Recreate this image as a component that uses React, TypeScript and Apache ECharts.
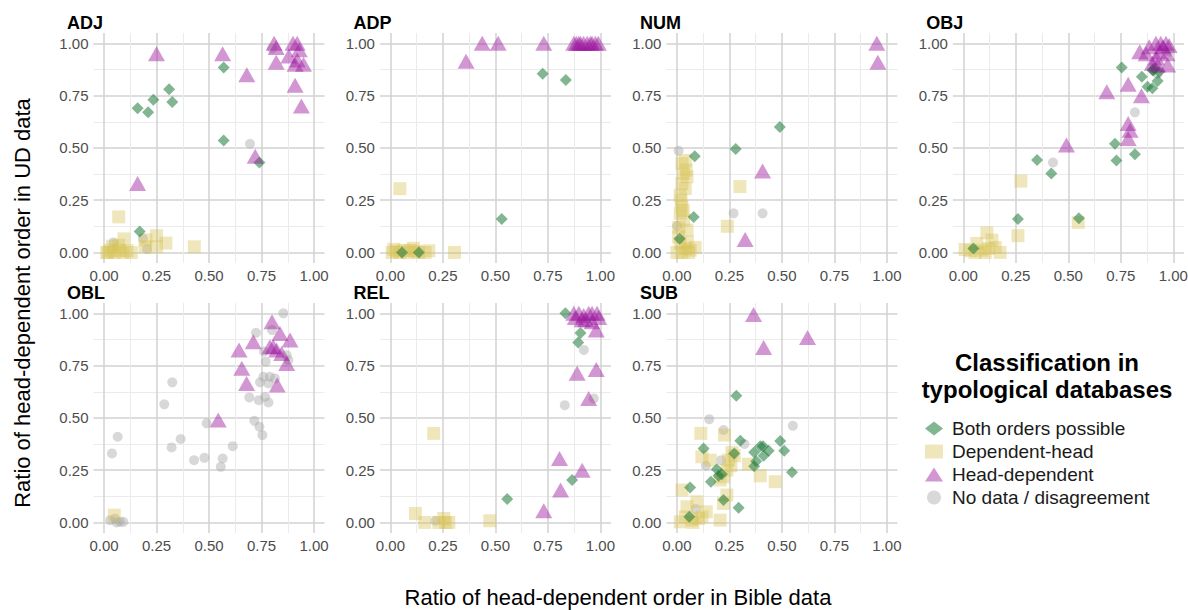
import React, { useEffect, useRef } from "react";
import * as echarts from "echarts";

type P = [number, number][];

const panelNames = ["ADJ", "ADP", "NUM", "OBJ", "OBL", "REL", "SUB"];
const classNames = ["Both orders possible", "Dependent-head", "Head-dependent", "No data / disagreement"];
const majorTicks = [0, 0.25, 0.5, 0.75, 1];
const minorTicks = [0.125, 0.375, 0.625, 0.875];

// ADJ
const adjBoth: P = [[0.16,0.69],[0.21,0.67],[0.235,0.73],[0.31,0.78],[0.325,0.72],[0.57,0.885],[0.57,0.535],[0.74,0.43],[0.17,0.10]];
const adjDep: P = [[0.07,0.17],[0.095,0.065],[0.25,0.08],[0.295,0.045],[0.43,0.027],[0.03,0.01],[0.05,0.0],[0.075,0.01],[0.11,0.008],[0.13,0.0],[0.013,0.0],[0.195,0.027],[0.25,0.027],[0.07,0.035],[0.04,0.03],[0.2,0.06],[0.02,0.0],[0.09,0.0]];
const adjHead: P = [[0.25,0.95],[0.565,0.95],[0.68,0.85],[0.16,0.33],[0.72,0.46],[0.81,1.0],[0.82,0.98],[0.90,1.0],[0.92,1.0],[0.93,0.97],[0.82,0.91],[0.88,0.94],[0.91,0.9],[0.92,0.92],[0.95,0.9],[0.91,0.8],[0.94,0.7]];
const adjNone: P = [[0.80,0.975],[0.695,0.52],[0.185,0.067],[0.205,0.016],[0.045,0.048]];

// ADP
const adpBoth: P = [[0.725,0.855],[0.835,0.825],[0.53,0.16],[0.055,0.0],[0.135,0.0]];
const adpDep: P = [[0.045,0.305],[0.305,0.0],[0.008,0.0],[0.03,0.005],[0.063,0.01],[0.095,0.01],[0.11,0.02],[0.135,0.0],[0.165,0.0],[0.183,0.008],[0.016,0.015],[0.08,0.0],[0.045,0.0],[0.12,0.005]];
const adpHead: P = [[0.36,0.915],[0.437,1.0],[0.513,1.0],[0.73,1.0],[0.873,1.0],[0.885,1.0],[0.897,1.0],[0.92,1.0],[0.937,1.0],[0.952,1.0],[0.976,1.0],[0.99,1.0],[0.905,1.0],[0.96,1.0]];
const adpNone: P = [];

// NUM
const numBoth: P = [[0.49,0.6],[0.28,0.495],[0.085,0.46],[0.08,0.17],[0.013,0.065]];
const numDep: P = [[0.30,0.315],[0.24,0.125],[0.024,0.426],[0.032,0.378],[0.048,0.362],[0.024,0.33],[0.04,0.306],[0.016,0.274],[0.024,0.218],[0.016,0.187],[0.032,0.155],[0.048,0.107],[0.008,0.075],[0.016,0.043],[0.04,0.019],[0.063,0.011],[0.087,0.024],[0.0,0.0],[0.024,0.0],[0.056,0.0],[0.04,0.44],[0.044,0.394],[0.02,0.25],[0.03,0.2],[0.01,0.12],[0.05,0.05]];
const numHead: P = [[0.952,1.0],[0.957,0.91],[0.408,0.39],[0.325,0.062]];
const numNone: P = [[0.008,0.486],[0.27,0.187],[0.408,0.187],[0.0,0.126]];

// OBJ
const objBoth: P = [[0.754,0.885],[0.85,0.84],[0.877,0.793],[0.90,0.785],[0.925,0.82],[0.90,0.872],[0.91,0.88],[0.722,0.52],[0.729,0.44],[0.817,0.47],[0.351,0.442],[0.419,0.378],[0.26,0.16],[0.55,0.163],[0.048,0.019],[0.933,0.864],[0.905,0.87]];
const objDep: P = [[0.274,0.341],[0.26,0.08],[0.547,0.144],[0.008,0.014],[0.032,0.008],[0.064,0.043],[0.088,0.011],[0.112,0.094],[0.136,0.059],[0.152,0.024],[0.175,0.0],[0.056,0.0],[0.104,0.0],[0.12,0.019]];
const objHead: P = [[0.491,0.514],[0.683,0.769],[0.785,0.805],[0.848,0.75],[0.785,0.617],[0.785,0.545],[0.794,0.585],[0.84,0.96],[0.885,0.984],[0.917,1.0],[0.94,1.0],[0.965,1.0],[0.98,0.99],[0.933,0.96],[0.97,0.95],[0.90,0.905],[0.925,0.896],[0.973,0.896],[0.95,0.984],[0.92,0.93],[0.87,0.95]];
const objNone: P = [[0.427,0.43],[0.817,0.67],[0.98,0.96],[0.925,0.855]];

// OBL
const oblBoth: P = [];
const oblDep: P = [[0.049,0.035]];
const oblHead: P = [[0.80,0.96],[0.711,0.864],[0.643,0.825],[0.656,0.737],[0.679,0.665],[0.825,0.657],[0.544,0.49],[0.886,0.872],[0.838,0.904],[0.806,0.84],[0.822,0.825],[0.87,0.76],[0.846,0.808],[0.79,0.84]];
const oblNone: P = [[0.854,1.0],[0.724,0.907],[0.80,0.92],[0.762,0.817],[0.77,0.769],[0.87,0.8],[0.878,0.777],[0.79,0.697],[0.759,0.697],[0.814,0.689],[0.743,0.67],[0.783,0.665],[0.692,0.598],[0.737,0.585],[0.767,0.601],[0.783,0.574],[0.716,0.486],[0.74,0.458],[0.754,0.418],[0.613,0.365],[0.565,0.306],[0.478,0.309],[0.429,0.298],[0.556,0.266],[0.489,0.474],[0.365,0.399],[0.322,0.359],[0.325,0.67],[0.287,0.565],[0.065,0.41],[0.038,0.33],[0.029,0.011],[0.052,0.019],[0.076,0.003],[0.092,0.003],[0.06,0.0]];

// REL
const relBoth: P = [[0.833,1.0],[0.905,0.906],[0.894,0.861],[0.865,0.203],[0.556,0.112]];
const relDep: P = [[0.206,0.426],[0.119,0.043],[0.163,0.0],[0.254,0.019],[0.278,0.0],[0.262,0.0],[0.473,0.008],[0.23,0.0]];
const relHead: P = [[0.873,1.0],[0.897,1.0],[0.92,0.99],[0.944,1.0],[0.96,1.0],[0.984,1.0],[0.992,0.98],[0.93,0.97],[0.96,0.96],[0.98,0.92],[0.889,0.713],[0.98,0.732],[0.944,0.593],[0.805,0.306],[0.913,0.25],[0.81,0.155],[0.73,0.056],[0.88,0.98],[0.913,0.97]];
const relNone: P = [[0.921,0.825],[0.83,0.561],[0.968,0.593],[0.214,0.008]];

// SUB
const subBoth: P = [[0.283,0.606],[0.127,0.354],[0.302,0.391],[0.41,0.365],[0.368,0.336],[0.437,0.343],[0.492,0.39],[0.511,0.343],[0.397,0.365],[0.378,0.293],[0.368,0.269],[0.548,0.24],[0.19,0.255],[0.162,0.195],[0.198,0.223],[0.273,0.33],[0.063,0.167],[0.222,0.107],[0.294,0.07],[0.059,0.027],[0.214,0.23],[0.413,0.319]];
const subDep: P = [[0.114,0.426],[0.227,0.418],[0.024,0.155],[0.119,0.314],[0.159,0.298],[0.262,0.335],[0.273,0.319],[0.257,0.271],[0.341,0.279],[0.397,0.223],[0.468,0.195],[0.206,0.203],[0.238,0.131],[0.222,0.091],[0.206,0.011],[0.14,0.051],[0.095,0.099],[0.048,0.075],[0.04,0.027],[0.071,0.011],[0.103,0.019],[0.016,0.003],[0.238,0.25],[0.246,0.298],[0.076,0.0],[0.12,0.027],[0.222,0.218]];
const subHead: P = [[0.365,0.995],[0.413,0.837],[0.622,0.884]];
const subNone: P = [[0.154,0.494],[0.222,0.442],[0.552,0.462],[0.322,0.375],[0.138,0.271],[0.211,0.298],[0.09,0.064]];

const panelData: P[][] = [
  [adjBoth, adjDep, adjHead, adjNone],
  [adpBoth, adpDep, adpHead, adpNone],
  [numBoth, numDep, numHead, numNone],
  [objBoth, objDep, objHead, objNone],
  [oblBoth, oblDep, oblHead, oblNone],
  [relBoth, relDep, relHead, relNone],
  [subBoth, subDep, subHead, subNone],
];

const FONT = "'Liberation Sans', Arial, Helvetica, sans-serif";
const classStyle = [
  { symbol: "diamond", size: [12, 12], color: "#1b7837", opacity: 0.55, z: 4 },
  { symbol: "rect", size: [13, 13], color: "#d7c355", opacity: 0.4, z: 3 },
  { symbol: "triangle", size: [17, 15], color: "#9c179e", opacity: 0.45, z: 5 },
  { symbol: "circle", size: [10, 10], color: "#a8a8a8", opacity: 0.45, z: 2 },
];
const drawOrder = [3, 1, 0, 2];

export default function App() {
  const ref = useRef<HTMLDivElement>(null);
  useEffect(() => {
    document.body.style.margin = "0";
    const chart = echarts.init(ref.current!, null, { renderer: "svg" });
    const grids: any[] = [];
    const xAxes: any[] = [];
    const yAxes: any[] = [];
    const series: any[] = [];
    const graphics: any[] = [];
    const W = 231, H = 230;
    panelNames.forEach((name, i) => {
      const col = i % 4, row = Math.floor(i / 4);
      const left = 93.5 + col * 286.45;
      const top = row === 0 ? 32.9 : 302.9;
      grids.push({ left, top, width: W, height: H, containLabel: false, outerBoundsMode: "none" });
      const common = { type: "value", gridIndex: i, min: -0.05, max: 1.05, axisLine: { show: false } };
      // minor grid lines
      xAxes.push({ ...common, position: "bottom", axisTick: { show: false, customValues: minorTicks }, axisLabel: { show: false, customValues: minorTicks },
        splitLine: { show: true, lineStyle: { color: "#ebebeb", width: 1 } } });
      yAxes.push({ ...common, position: "left", axisTick: { show: false, customValues: minorTicks }, axisLabel: { show: false, customValues: minorTicks },
        splitLine: { show: true, lineStyle: { color: "#ebebeb", width: 1 } } });
      // major grid lines + labels
      const lbl = { show: true, customValues: majorTicks, formatter: (v: number) => v.toFixed(2), fontSize: 15, color: "#4d4d4d", fontFamily: FONT, margin: 5 };
      xAxes.push({ ...common, position: "bottom", axisTick: { show: false, customValues: majorTicks }, axisLabel: lbl,
        splitLine: { show: true, lineStyle: { color: "#d2d2d2", width: 1.5 } } });
      yAxes.push({ ...common, position: "left", axisTick: { show: false, customValues: majorTicks }, axisLabel: { ...lbl, margin: 5 },
        splitLine: { show: true, lineStyle: { color: "#d2d2d2", width: 1.5 } } });
      drawOrder.forEach((k) => {
        const st = classStyle[k];
        series.push({
          type: "scatter", name: classNames[k], xAxisIndex: 2 * i + 1, yAxisIndex: 2 * i + 1,
          data: panelData[i][k], symbol: st.symbol, symbolSize: st.size, z: st.z, silent: true,
          itemStyle: { color: st.color, opacity: st.opacity },
        });
      });
      graphics.push({ type: "text", left: left - 26.5, top: top - 19, style: { text: name, font: `bold 18px ${FONT}`, fill: "#000" } });
    });
    graphics.push({ type: "text", x: 618, y: 597, style: { text: "Ratio of head-dependent order in Bible data", font: `22px ${FONT}`, fill: "#000", align: "center", verticalAlign: "middle" } });
    graphics.push({ type: "text", x: 22, y: 303, rotation: Math.PI / 2, style: { text: "Ratio of head-dependent order in UD data", font: `22px ${FONT}`, fill: "#000", align: "center", verticalAlign: "middle" } });
    graphics.push({ type: "text", x: 1047, y: 376, style: { text: "Classification in\ntypological databases", font: `bold 24px ${FONT}`, fill: "#000", align: "center", verticalAlign: "middle", lineHeight: 27 } });

    chart.setOption({
      animation: false,
      backgroundColor: "#fff",
      grid: grids,
      xAxis: xAxes,
      yAxis: yAxes,
      series,
      graphic: graphics,
      legend: {
        orient: "vertical", left: 920, top: 414, itemWidth: 18, itemHeight: 14, itemGap: 4,
        selectedMode: false,
        textStyle: { fontSize: 19, color: "#1a1a1a", fontFamily: FONT, padding: [0, 0, 0, 4] },
        data: [
          { name: classNames[0], icon: "diamond" },
          { name: classNames[1], icon: "rect" },
          { name: classNames[2], icon: "triangle" },
          { name: classNames[3], icon: "circle" },
        ],
      },
    });
    return () => chart.dispose();
  }, []);
  return <div ref={ref} style={{ position: "absolute", left: 0, top: 0, width: 1188, height: 610 }} />;
}
